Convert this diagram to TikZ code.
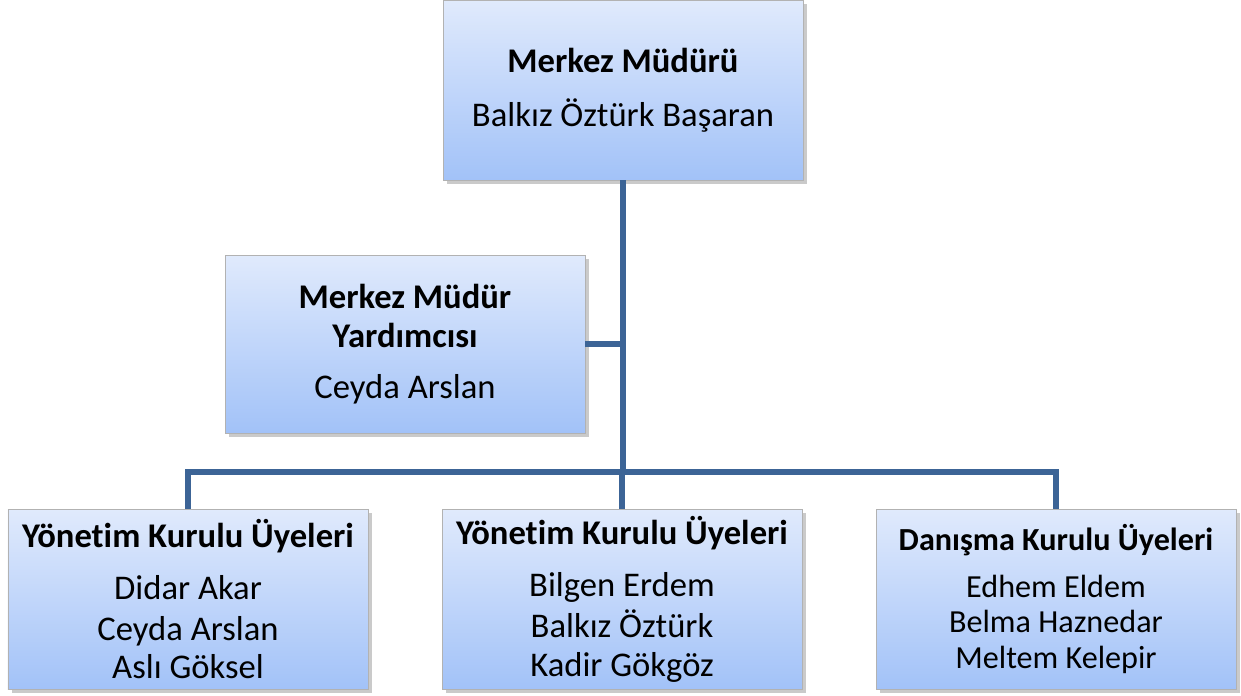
\documentclass[tikz,border=0pt]{standalone}
\usepackage{fontspec}
\setmainfont{Carlito}[Ligatures=NoCommon]
\usepackage{tikz}
\usetikzlibrary{positioning,calc,shadows}

\definecolor{linkblue}{RGB}{60,100,150}
\definecolor{boxtop}{RGB}{224,234,252}
\definecolor{boxbot}{RGB}{162,194,248}

\tikzset{
  orgbox/.style={rectangle, draw=gray!60, thin, top color=boxtop, bottom color=boxbot,
    minimum width=7.2cm, minimum height=3.6cm, align=center, inner sep=2pt,
    font=\fontsize{19.7}{22}\selectfont,
    drop shadow={shadow xshift=2pt, shadow yshift=-2pt, opacity=0.35, fill=black!60}},
  link/.style={draw=linkblue, line width=3.4pt}
}

\begin{document}
\begin{tikzpicture}
    \useasboundingbox (0,0) rectangle (24.82,13.9);

    \coordinate (bus) at (12.44,4.46);

    % Boxes
    \node[orgbox] (mudur) at (12.46,12.1)
        {\textbf{Merkez Müdürü}\\[9pt] Balkız Öztürk Başaran};
    \node[orgbox, minimum height=3.56cm] (yardimci) at (8.1,7.02)
        {\textbf{Merkez Müdür}\\ \textbf{Yardımcısı}\\[7pt] Ceyda Arslan};
    \node[orgbox] (yk1) at (3.76,1.92)
        {\textbf{Yönetim Kurulu Üyeleri}\\[8pt] Didar Akar\\[1pt] Ceyda Arslan\\ Aslı Göksel};
    \node[orgbox] (yk2) at (12.44,1.92)
        {\textbf{Yönetim Kurulu Üyeleri}\\[8pt] Bilgen Erdem\\[1pt] Balkız Öztürk\\ Kadir Gökgöz};
    \node[orgbox, font=\fontsize{18.3}{20}\selectfont] (dk) at (21.12,1.92)
        {\textbf{Danışma Kurulu Üyeleri}\\[6.7pt] Edhem Eldem\\ Belma Haznedar\\ Meltem Kelepir};

    % Links
    \draw[link] (mudur.south) -- (mudur.south |- bus);
    \draw[link] (yardimci.east) -- (yardimci.east -| mudur.south);
    \draw[link] (yk1.north) |- (bus) -| (dk.north);
    \draw[link] (bus) -- (yk2.north);
\end{tikzpicture}
\end{document}
